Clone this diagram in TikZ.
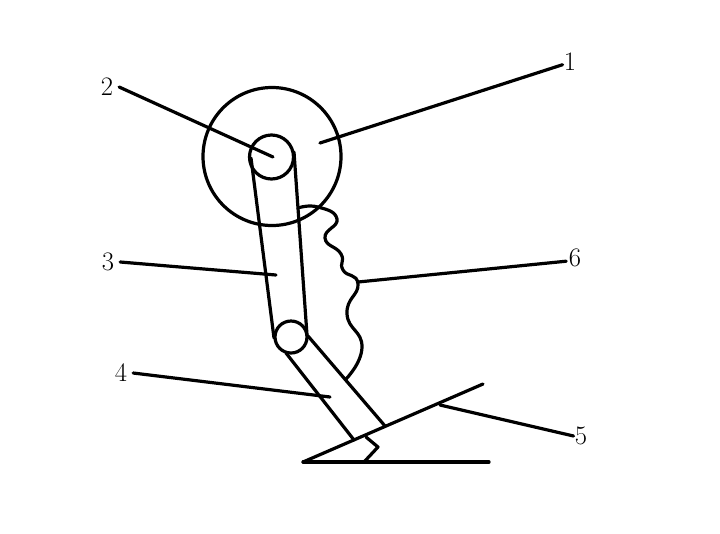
\documentclass[tikz,border=0pt]{standalone}

\tikzset{
  part/.style={line width=2.4pt,line cap=round,line join=round},
  numlabel/.style={inner sep=0pt,outer sep=4.5pt,font=\fontsize{20}{20}\selectfont}
}

\begin{document}
\begin{tikzpicture}
[x=0.75pt,y=-0.75pt,every path/.append style={part}]
\useasboundingbox (0,0) rectangle (720,533);
% wheel and joints
\node (wheel) [circle,draw,part,minimum size=138*0.75pt,inner sep=0pt] at (272,156.5) {};
\node (hub) [circle,draw,part,minimum size=44*0.75pt,inner sep=0pt] at (271.5,157) {};
\node (joint) [circle,draw,part,minimum size=32*0.75pt,inner sep=0pt] at (291,337) {};
% base
\coordinate (wedgetip) at (303,462);
\coordinate (wedgeend) at (483,384);
\coordinate (baseend) at (489,462);
\draw (wedgetip) -- (wedgeend);
\draw (wedgetip) -- (baseend);
\draw (366,437) -- (378,447) -- (364,462);
% arms
\draw (251,158) -- (274,338);
\draw (294,152) -- (307,335);
\draw (286,353) -- (354,440);
\draw (308,336) -- (385,426);
% spring
\coordinate (springmid) at (358,282);
\draw plot[smooth,tension=0.9] coordinates {(298,208) (318,207) (337,219)
  (325,238) (341,254) (343,270) (358,284)
  (347,314) (362,347) (346,379)};
% numbers
\node (n1) [numlabel,outer sep=1pt] at (570,62) {1};
\node (n2) [numlabel] at (107,87) {2};
\node (n3) [numlabel] at (108,262) {3};
\node (n4) [numlabel] at (121,373) {4};
\node (n5) [numlabel,outer sep=1pt] at (581,436) {5};
\node (n6) [numlabel,outer sep=2pt] at (575,258) {6};
% leaders
\coordinate (p1) at (320,143);
\coordinate (p2) at (273,157);
\coordinate (p3) at (276,275);
\coordinate (p4) at (330,397);
\coordinate (p5) at (440,405);
\draw (n1.200) -- (p1);
\draw (n2.east) -- (p2);
\draw (n3.east) -- (p3);
\draw (n4.east) -- (p4);
\draw (n5.west) -- (p5);
\draw (n6.200) -- (springmid);
\end{tikzpicture}
\end{document}
